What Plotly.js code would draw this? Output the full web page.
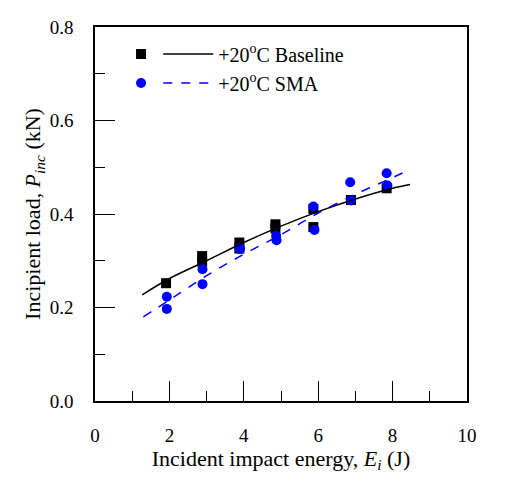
<!DOCTYPE html>
<html><head><meta charset="utf-8">
<script src="https://cdn.plot.ly/plotly-3.0.1.min.js"></script>
<style>
body{margin:0;background:#fff}
#c{width:505px;height:489px}
#c svg text{font-family:'Liberation Serif','Times New Roman',serif !important;}
</style>
</head><body><div id="c"></div>
<script>
// Measured data
const baseX = [1.91, 2.88, 2.88, 3.88, 3.88, 4.85, 4.85, 5.87, 5.87, 6.88, 7.84];
const baseY = [0.252, 0.310, 0.298, 0.339, 0.326, 0.378, 0.369, 0.411, 0.372, 0.430, 0.455];
const smaX = [1.93, 1.93, 2.89, 2.89, 3.88, 3.9, 4.87, 4.88, 5.87, 5.9, 6.86, 6.88, 7.84, 7.86];
const smaY = [0.223, 0.197, 0.282, 0.250, 0.327, 0.325, 0.353, 0.344, 0.416, 0.366, 0.468, 0.429, 0.487, 0.461];
// Fit curves
const baseFitX = [1.27, 2, 3, 4, 5, 6, 7, 8, 8.47];
const baseFitY = [0.227, 0.262, 0.300, 0.339, 0.374, 0.405, 0.432, 0.455, 0.463];
const smaFitX = [1.3, 2, 3, 4, 5, 6, 7, 8, 8.47];
const smaFitY = [0.180, 0.216, 0.268, 0.314, 0.356, 0.402, 0.442, 0.478, 0.495];
const names = ['+20<sup>o</sup>C Baseline', '+20<sup>o</sup>C SMA'];

const F = 'Liberation Serif, serif';
const traces = [
  {x: baseX, y: baseY, mode: 'markers', type: 'scatter', name: ' ', legend: 'legend',
   marker: {symbol: 'square', size: 10, color: '#000'}},
  {x: smaX, y: smaY, mode: 'markers', type: 'scatter', name: ' ', legend: 'legend',
   marker: {symbol: 'circle', size: 10, color: '#0000ff'}},
  {x: baseFitX, y: baseFitY, mode: 'lines', type: 'scatter', name: names[0], legend: 'legend2',
   line: {color: '#000', width: 1.5, shape: 'spline'}},
  {x: smaFitX, y: smaFitY, mode: 'lines', type: 'scatter', name: names[1], legend: 'legend2',
   line: {color: '#0000ff', width: 1.5, dash: 'dash', shape: 'spline'}}
];
const layout = {
  width: 505, height: 489,
  margin: {l: 95, r: 38, t: 27, b: 88},
  paper_bgcolor: '#fff', plot_bgcolor: '#fff',
  font: {family: F, size: 19, color: '#000'},
  showlegend: true,
  legend: {x: 0.07, y: 0.98, xanchor: 'left', yanchor: 'top', bgcolor: 'rgba(0,0,0,0)',
    font: {family: F, size: 20, color: '#000'}, itemwidth: 30, tracegroupgap: 0},
  legend2: {x: 0.17, y: 0.98, xanchor: 'left', yanchor: 'top', bgcolor: 'rgba(0,0,0,0)',
    font: {family: F, size: 20, color: '#000'}, itemwidth: 50, tracegroupgap: 0},
  xaxis: {range: [0, 10], dtick: 2, tick0: 0, ticks: 'inside', ticklen: 20, tickwidth: 1.2,
    tickcolor: '#000', showline: true, linewidth: 1.5, linecolor: '#000', mirror: true,
    showgrid: false, zeroline: false, tickfont: {family: F, size: 19, color: '#000'}, ticklabelstandoff: 16,
    minor: {dtick: 1, ticks: 'inside', ticklen: 10, tickwidth: 1.2, tickcolor: '#000', showgrid: false},
    title: {text: 'Incident impact energy, <i>E</i><sub><i>i</i></sub> (J)', font: {family: F, size: 22, color: '#000'}, standoff: 0}},
  yaxis: {range: [0, 0.8], dtick: 0.2, tick0: 0, tickformat: '.1f', ticks: 'inside', ticklen: 20, tickwidth: 1.2,
    tickcolor: '#000', showline: true, linewidth: 1.5, linecolor: '#000', mirror: true,
    showgrid: false, zeroline: false, tickfont: {family: F, size: 19, color: '#000'}, ticklabelstandoff: 16,
    minor: {dtick: 0.1, ticks: 'inside', ticklen: 10, tickwidth: 1.2, tickcolor: '#000', showgrid: false},
    title: {text: 'Incipient load, <i>P</i><sub><i>inc</i></sub> (kN)', font: {family: F, size: 22, color: '#000'}, standoff: 3}}
};
Plotly.newPlot('c', traces, layout, {displayModeBar: false});
</script></body></html>
